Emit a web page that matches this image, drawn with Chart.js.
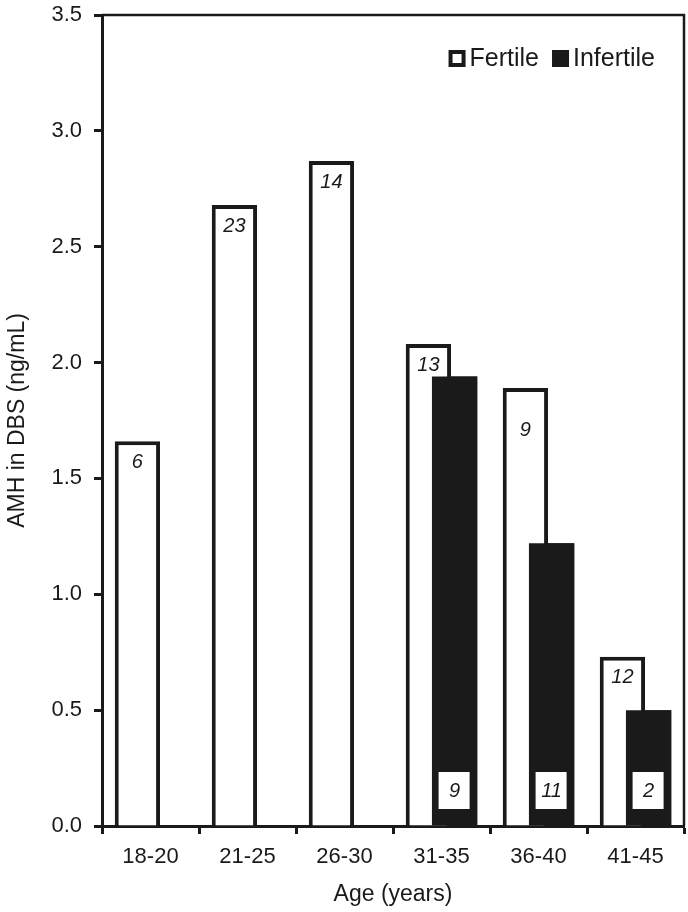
<!DOCTYPE html>
<html>
<head>
<meta charset="utf-8">
<script src="https://cdn.jsdelivr.net/npm/chart.js@4/dist/chart.umd.min.js"></script>
<style>
  body { margin: 0; background: #fff; }
  #container-canvas { width: 688px; height: 912px; }
</style>
</head>
<body>
<div id="container-canvas">
  <canvas id="amhChart" width="688" height="912"></canvas>
</div>
<script>
// values
const ageGroups = ['18-20', '21-25', '26-30', '31-35', '36-40', '41-45']
const fertileAmh = [1.66, 2.68, 2.87, 2.08, 1.89, 0.73]
const infertileAmh = [null, null, null, 1.94, 1.22, 0.50]
const fertileN = [6, 23, 14, 13, 9, 12]
const infertileN = [null, null, null, 9, 11, 2]

const FONT = '"Liberation Sans", Arial, sans-serif'
const INK = '#1a1a1a'

// chart.js paints dataset 0 last, but here the black bars sit on top of the white ones
const barsOnTop = {
    id: 'barsOnTop',
    afterDatasetsDraw(chart) {
        const ctx = chart.ctx
        ctx.save()
        chart.getDatasetMeta(1).data.forEach(bar => {
            if (!bar.skip) bar.draw(ctx)
        })
        ctx.restore()
    }
}

// n per group, italic, inside the bars
const countLabels = {
    id: 'countLabels',
    afterDatasetsDraw(chart) {
        const ctx = chart.ctx
        const yBase = chart.scales.y.getPixelForValue(0)
        ctx.save()
        ctx.font = 'italic 20px ' + FONT
        ctx.textAlign = 'center'
        ctx.textBaseline = 'middle'
        chart.getDatasetMeta(0).data.forEach((bar, i) => {
            if (fertileN[i] == null) return
            const dy = i === 4 ? 42 : 21
            ctx.fillStyle = INK
            ctx.fillText(fertileN[i], bar.x, bar.y + dy)
        })
        chart.getDatasetMeta(1).data.forEach((bar, i) => {
            if (infertileN[i] == null) return
            ctx.fillStyle = '#fff'
            ctx.fillRect(bar.x - 16, yBase - 54, 31, 37)
            ctx.fillStyle = INK
            ctx.fillText(infertileN[i], bar.x, yBase - 35)
        })
        ctx.restore()
    }
}

// closing frame on top and right, plus the legend in the corner
const frameAndLegend = {
    id: 'frameAndLegend',
    afterDraw(chart) {
        const ctx = chart.ctx
        const a = chart.chartArea
        ctx.save()
        ctx.strokeStyle = INK
        ctx.lineWidth = 2.5
        ctx.beginPath()
        ctx.moveTo(a.left, a.top)
        ctx.lineTo(a.right, a.top)
        ctx.lineTo(a.right, a.bottom)
        ctx.stroke()

        ctx.font = '25px ' + FONT
        ctx.textBaseline = 'middle'
        ctx.textAlign = 'left'
        const yMid = a.top + 43
        let x = a.right - 29
        const items = [
            { text: 'Infertile', fill: INK },
            { text: 'Fertile', fill: '#fff' }
        ]
        items.forEach(item => {
            const w = ctx.measureText(item.text).width
            x -= w
            ctx.fillStyle = INK
            ctx.fillText(item.text, x, yMid + 1)
            x -= 21
            ctx.fillStyle = INK
            ctx.fillRect(x, yMid - 8, 17, 17)
            if (item.fill === '#fff') {
                ctx.fillStyle = '#fff'
                ctx.fillRect(x + 4, yMid - 4, 9, 9)
            }
            x -= 13
        })
        ctx.restore()
    }
}

const ctx = document.getElementById('amhChart')
new Chart(ctx, {
    type: 'bar',
    data: {
        labels: ageGroups,
        datasets: [
            {
                label: 'Fertile',
                data: fertileAmh,
                backgroundColor: '#fff',
                borderColor: INK,
                borderWidth: 4,
                borderSkipped: 'start',
                categoryPercentage: 0.54,
                barPercentage: 1.73
            },
            {
                label: 'Infertile',
                data: infertileAmh,
                backgroundColor: INK,
                borderColor: INK,
                borderWidth: 0,
                categoryPercentage: 0.54,
                barPercentage: 1.73
            }
        ]
    },
    options: {
        responsive: false,
        animation: false,
        devicePixelRatio: 1,
        layout: { padding: { top: 15, right: 4, left: 0, bottom: 0 } },
        plugins: {
            legend: { display: false },
            tooltip: { enabled: false }
        },
        scales: {
            x: {
                afterFit: scale => { scale.height = 86 },
                border: { display: true, color: INK, width: 3 },
                grid: {
                    offset: true,
                    drawOnChartArea: false,
                    drawTicks: true,
                    tickLength: 8,
                    tickWidth: 3,
                    color: INK
                },
                ticks: { color: INK, font: { family: FONT, size: 22 }, padding: 10 },
                title: {
                    display: true,
                    text: 'Age (years)',
                    color: INK,
                    font: { family: FONT, size: 23 },
                    padding: { top: 4 }
                }
            },
            y: {
                min: 0,
                max: 3.5,
                afterFit: scale => {
                    scale.width = 102
                    scale.paddingTop = 0
                    scale.paddingBottom = 0
                },
                border: { display: true, color: INK, width: 3 },
                grid: {
                    drawOnChartArea: false,
                    drawTicks: true,
                    tickLength: 8,
                    tickWidth: 3,
                    color: INK
                },
                ticks: {
                    stepSize: 0.5,
                    color: INK,
                    font: { family: FONT, size: 22 },
                    padding: 12,
                    callback: v => v.toFixed(1)
                },
                title: {
                    display: true,
                    text: 'AMH in DBS (ng/mL)',
                    color: INK,
                    font: { family: FONT, size: 23 },
                    padding: { bottom: 2 }
                }
            }
        }
    },
    plugins: [barsOnTop, countLabels, frameAndLegend]
})
</script>
</body>
</html>
